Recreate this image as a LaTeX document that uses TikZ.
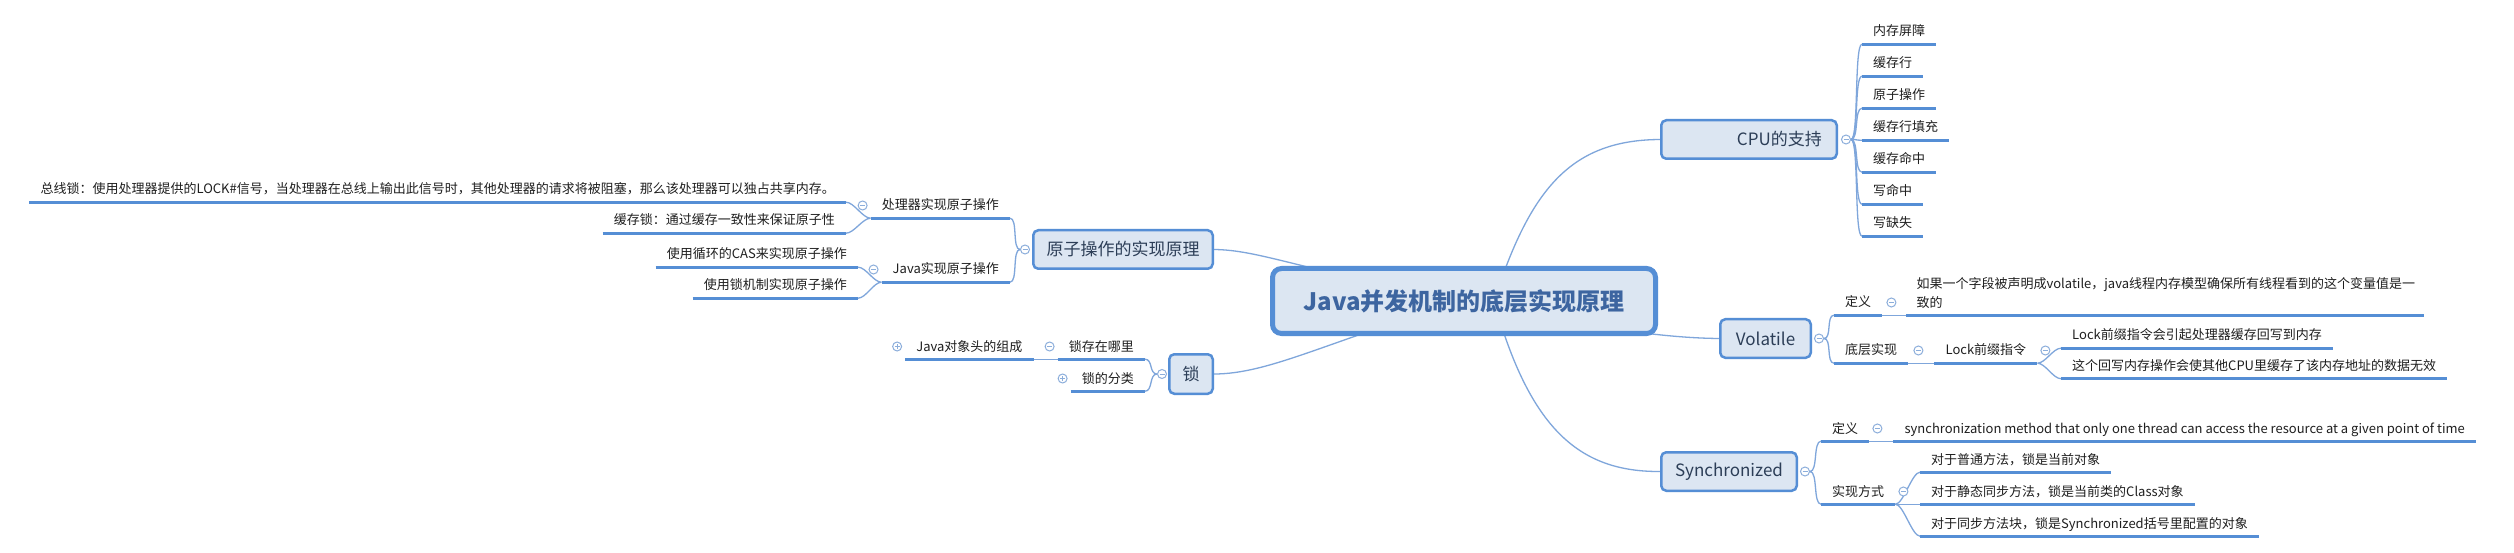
\documentclass[tikz,border=0pt]{standalone}
\usepackage{fontspec}
\setmainfont{Noto Sans CJK SC}
\usetikzlibrary{calc}
\pgfdeclarelayer{paper}
\pgfdeclarelayer{bg}
\pgfsetlayers{paper,bg,main}
\definecolor{boxfill}{HTML}{DCE6F2}
\definecolor{boxline}{HTML}{558ED5}
\definecolor{ulc}{HTML}{558ED5}
\definecolor{connc}{HTML}{7FA6DB}
\definecolor{circ}{HTML}{8CAEDB}
\definecolor{boxtext}{HTML}{2C3E57}
\definecolor{roottext}{HTML}{3D65A0}
\tikzset{
  rootbox/.style={draw=boxline, fill=boxfill, line width=5pt, rounded corners=9pt,
    minimum width=383pt, minimum height=65pt, inner sep=0pt,
    font=\fontsize{24}{28}\selectfont\bfseries, text=roottext},
  mainbox/.style={draw=boxline, fill=boxfill, line width=2.5pt, rounded corners=5pt,
    minimum height=38.5pt, inner sep=0pt, font=\fontsize{17}{20}\selectfont, text=boxtext},
  leaf/.style={font=\fontsize{13}{16}\selectfont, text height=11pt, text depth=2pt,
    inner xsep=11pt, inner ysep=6pt, text=black!88},
  leafm/.style={font=\fontsize{13}{19}\selectfont, align=left, text width=497pt,
    inner xsep=10pt, inner ysep=6pt, text=black!88},
  ul/.style={line width=3pt, draw=ulc},
  conn/.style={draw=connc, line width=1.3pt},
  toR/.style={to path={.. controls ([xshift=8pt]\tikztostart) and ([xshift=-8pt]\tikztotarget) .. (\tikztotarget)}},
  toL/.style={to path={.. controls ([xshift=-8pt]\tikztostart) and ([xshift=8pt]\tikztotarget) .. (\tikztotarget)}},
  fold/.style={circle, draw=circ, fill=white, line width=1pt, minimum size=9pt, inner sep=0pt,
    path picture={\draw[circ, line width=1pt] ([xshift=-2.5pt]path picture bounding box.center) -- ([xshift=2.5pt]path picture bounding box.center);}},
  unfold/.style={circle, draw=circ, fill=white, line width=1pt, minimum size=9pt, inner sep=0pt,
    path picture={\draw[circ, line width=1pt] ([xshift=-2.5pt]path picture bounding box.center) -- ([xshift=2.5pt]path picture bounding box.center)
      ([yshift=-2.5pt]path picture bounding box.center) -- ([yshift=2.5pt]path picture bounding box.center);}}
}
\begin{document}
\begin{tikzpicture}[x=1pt, y=-1pt]
\begin{pgfonlayer}{paper}
\useasboundingbox[fill=white] (0,0) rectangle (2514,553);
\end{pgfonlayer}

% root
\node[rootbox] (root) at (1464,301) {Java并发机制的底层实现原理};

% CPU branch
\node[mainbox, minimum width=175.5pt, text width=145.5pt, align=right, inner xsep=15pt] (cpu) at (1749,139.5) {CPU的支持};
\node[fold] (fcpu) at ([xshift=8pt]cpu.east) {};
\node[leaf, anchor=west] (c1) at (1862,31.5) {内存屏障};
\node[leaf, anchor=west] (c2) at (1862,63.5) {缓存行};
\node[leaf, anchor=west] (c3) at (1862,95.5) {原子操作};
\node[leaf, anchor=west] (c4) at (1862,127.5) {缓存行填充};
\node[leaf, anchor=west] (c5) at (1862,159.5) {缓存命中};
\node[leaf, anchor=west] (c6) at (1862,191.5) {写命中};
\node[leaf, anchor=west] (c7) at (1862,223.5) {写缺失};

% Volatile branch
\node[mainbox, minimum width=90.5pt] (vol) at (1765.5,338.5) {Volatile};
\node[fold] (fvol) at ([xshift=7pt]vol.east) {};
\node[leaf, anchor=west] (vdef) at (1834,302.5) {定义};
\node[fold] (fvdef) at ([xshift=9pt]vdef.east) {};
\node[leafm, anchor=south west] (vdeft) at ([xshift=24pt]vdef.south east) {如果一个字段被声明成volatile，java线程内存模型确保所有线程看到的这个变量值是一\\致的};
\node[leaf, anchor=west] (vbase) at (1834,350.5) {底层实现};
\node[fold] (fvbase) at ([xshift=10pt]vbase.east) {};
\node[leaf, anchor=south west] (vlock) at ([xshift=26pt]vbase.south east) {Lock前缀指令};
\node[fold] (fvlock) at ([xshift=8pt]vlock.east) {};
\node[leaf, anchor=west] (vl1) at (2061,335.5) {Lock前缀指令会引起处理器缓存回写到内存};
\node[leaf, anchor=west] (vl2) at (2061,366) {这个回写内存操作会使其他CPU里缓存了该内存地址的数据无效};

% Synchronized branch
\node[mainbox, minimum width=135.5pt] (sync) at (1729,471.5) {Synchronized};
\node[fold] (fsync) at ([xshift=7pt]sync.east) {};
\node[leaf, anchor=west] (sdef) at (1821,428.5) {定义};
\node[fold] (fsdef) at ([xshift=8pt]sdef.east) {};
\node[leaf, anchor=south west] (sdeft) at ([xshift=24pt]sdef.south east) {synchronization method that only one thread can access the resource at a given point of time};
\node[leaf, anchor=west] (simpl) at (1821,491.5) {实现方式};
\node[fold] (fsimpl) at ([xshift=8pt]simpl.east) {};
\node[leaf, anchor=west] (s1) at (1920,459.5) {对于普通方法，锁是当前对象};
\node[leaf, anchor=west] (s2) at (1920,491.5) {对于静态同步方法，锁是当前类的Class对象};
\node[leaf, anchor=west] (s3) at (1920,523.5) {对于同步方法块，锁是Synchronized括号里配置的对象};

% atomic branch
\node[mainbox, minimum width=179.5pt] (atom) at (1123,249.5) {原子操作的实现原理};
\node[fold] (fatom) at ([xshift=-7pt]atom.west) {};
\node[leaf, anchor=east] (pimpl) at (1010,205.5) {处理器实现原子操作};
\node[fold] (fpimpl) at ([xshift=-8pt]pimpl.west) {};
\node[leaf, anchor=east] (bus) at (846,189.5) {总线锁：使用处理器提供的LOCK\#信号，当处理器在总线上输出此信号时，其他处理器的请求将被阻塞，那么该处理器可以独占共享内存。};
\node[leaf, anchor=east] (cachel) at (846,220.5) {缓存锁：通过缓存一致性来保证原子性};
\node[leaf, anchor=east] (jimpl) at (1010,269.5) {Java实现原子操作};
\node[fold] (fjimpl) at ([xshift=-8pt]jimpl.west) {};
\node[leaf, anchor=east] (cas) at (858,254.5) {使用循环的CAS来实现原子操作};
\node[leaf, anchor=east] (lockm) at (858,285.5) {使用锁机制实现原子操作};

% lock branch
\node[mainbox, minimum width=43.5pt, minimum height=39.5pt] (lock) at (1191,374) {锁};
\node[fold] (flock) at ([xshift=-6pt]lock.west) {};
\node[leaf, anchor=east] (where) at (1145,346.5) {锁存在哪里};
\node[fold] (fwhere) at ([xshift=-8pt]where.west) {};
\node[leaf, anchor=east] (kind) at (1145,378.5) {锁的分类};
\node[unfold] (fkind) at ([xshift=-8pt]kind.west) {};
\node[leaf, anchor=south east] (header) at ([xshift=-24pt]where.south west) {Java对象头的组成};
\node[unfold] (fheader) at ([xshift=-8pt]header.west) {};

% underlines
\foreach \n in {c1,c2,c3,c4,c5,c6,c7,vdef,vdeft,vbase,vlock,vl1,vl2,sdef,sdeft,simpl,s1,s2,s3,pimpl,bus,cachel,jimpl,cas,lockm,where,kind,header}
  \draw[ul] (\n.south west) -- (\n.south east);

\begin{pgfonlayer}{bg}
  % root connectors
  \draw[conn] ([xshift=30pt]root.center) .. controls (1530,190) and (1570,140) .. (cpu.west);
  \draw[conn] (root.center) .. controls (1600,330) and (1670,338) .. (vol.west);
  \draw[conn] ([xshift=30pt]root.center) .. controls (1530,430) and (1580,472) .. (sync.west);
  \draw[conn] (atom.east) .. controls (1260,250) and (1300,270) .. (root.center);
  \draw[conn] (lock.east) .. controls (1270,374) and (1330,340) .. (root.center);
  % CPU
  \foreach \n in {c1,c2,c3,c4,c5,c6,c7}
    \draw[conn] (fcpu.east) to[toR] (\n.south west);
  % Volatile
  \draw[conn] (fvol.east) to[toR] (vdef.south west) (fvol.east) to[toR] (vbase.south west);
  \draw[conn] (vdef.south east) -- (vdeft.south west);
  \draw[conn] (vbase.south east) -- (vlock.south west);
  \draw[conn] (vlock.south east) to[toR] (vl1.south west) (vlock.south east) to[toR] (vl2.south west);
  % Synchronized
  \draw[conn] (fsync.east) to[toR] (sdef.south west) (fsync.east) to[toR] (simpl.south west);
  \draw[conn] (sdef.south east) -- (sdeft.south west);
  \foreach \n in {s1,s2,s3}
    \draw[conn] (simpl.south east) to[toR] (\n.south west);
  % atomic
  \draw[conn] (fatom.west) to[toL] (pimpl.south east) (fatom.west) to[toL] (jimpl.south east);
  \draw[conn] (pimpl.south west) to[toL] (bus.south east) (pimpl.south west) to[toL] (cachel.south east);
  \draw[conn] (jimpl.south west) to[toL] (cas.south east) (jimpl.south west) to[toL] (lockm.south east);
  % lock
  \draw[conn] (flock.west) to[toL] (where.south east) (flock.west) to[toL] (kind.south east);
  \draw[conn] (where.south west) -- (header.south east);
\end{pgfonlayer}
\end{tikzpicture}
\end{document}
